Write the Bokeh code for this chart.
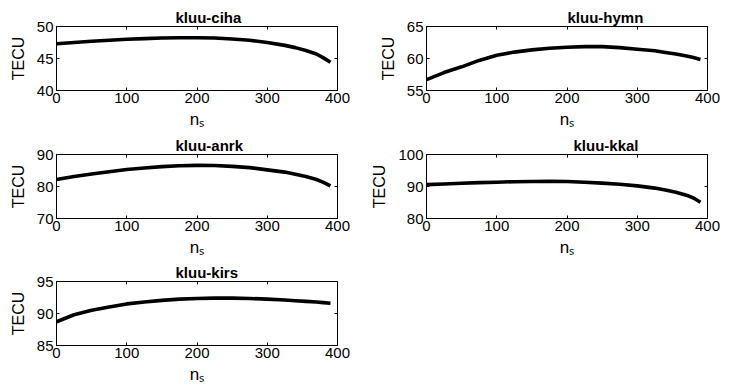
from bokeh.plotting import figure
from bokeh.models import Range1d, LinearAxis, FixedTicker
from bokeh.layouts import column, row
from bokeh.embed import file_html
from bokeh.resources import INLINE

ns = [0, 25, 50, 75, 100, 125, 150, 175, 200, 225, 250, 275, 300, 325, 340, 355, 370, 380, 390]

titles = ["kluu-ciha", "kluu-hymn", "kluu-anrk", "kluu-kkal", "kluu-kirs"]

tec_ciha = [47.3, 47.5, 47.7, 47.85, 48.0, 48.1, 48.2, 48.25, 48.25, 48.2, 48.05, 47.85, 47.5, 47.05, 46.7, 46.25, 45.7, 45.1, 44.4]
tec_hymn = [56.7, 57.8, 58.7, 59.7, 60.5, 61.0, 61.35, 61.6, 61.75, 61.85, 61.85, 61.7, 61.45, 61.2, 60.95, 60.7, 60.4, 60.15, 59.85]
tec_anrk = [82.2, 83.1, 83.9, 84.6, 85.3, 85.8, 86.2, 86.5, 86.6, 86.55, 86.3, 85.9, 85.2, 84.5, 83.8, 83.1, 82.2, 81.3, 80.2]
tec_kkal = [90.6, 90.8, 91.0, 91.2, 91.35, 91.5, 91.55, 91.6, 91.55, 91.35, 91.05, 90.7, 90.2, 89.5, 88.9, 88.2, 87.3, 86.4, 85.1]
tec_kirs = [88.7, 89.8, 90.5, 91.0, 91.5, 91.8, 92.05, 92.25, 92.35, 92.4, 92.4, 92.35, 92.25, 92.1, 92.0, 91.9, 91.8, 91.7, 91.6]

x_ticks = [0, 100, 200, 300, 400]
y_ranges = [(40, 50), (55, 65), (70, 90), (80, 100), (85, 95)]
y_ticks = [[40, 45, 50], [55, 60, 65], [70, 80, 90], [80, 90, 100], [85, 90, 95]]
series = [tec_ciha, tec_hymn, tec_anrk, tec_kkal, tec_kirs]

FONT = "Liberation Sans"


def make(i, W, H, B, L, R, toff, mtop=0):
    p = figure(width=W, height=H, x_range=Range1d(0, 400), y_range=Range1d(*y_ranges[i]),
               output_backend="svg", toolbar_location=None,
               min_border_left=L, min_border_right=R, min_border_top=19, min_border_bottom=B)
    if mtop:
        p.margin = (mtop, 0, 0, 0)
    p.line(ns, series[i], line_width=3.6, color="black")
    p.xgrid.visible = False
    p.ygrid.visible = False
    p.outline_line_color = "black"
    p.background_fill_color = "white"
    p.border_fill_color = "white"

    for ax, tk in ((p.xaxis[0], x_ticks), (p.yaxis[0], y_ticks[i])):
        ax.ticker = FixedTicker(ticks=tk)
        ax.major_tick_in = 3
        ax.major_tick_out = 0
        ax.minor_tick_line_color = None
        ax.axis_line_color = "black"
        ax.major_tick_line_color = "black"
        ax.major_label_text_font = FONT
        ax.major_label_text_font_size = "15px"
        ax.major_label_text_color = "black"
        ax.axis_label_text_font = FONT
        ax.axis_label_text_font_style = "normal"
        ax.axis_label_text_color = "black"
    p.xaxis.major_label_standoff = 2
    p.yaxis.major_label_standoff = 3
    p.xaxis.axis_label = "nₛ"
    p.xaxis.axis_label_text_font_size = "17px"
    p.xaxis.axis_label_standoff = 4
    p.yaxis.axis_label = "TECU"
    p.yaxis.axis_label_text_font_size = "16px"
    p.yaxis.axis_label_standoff = 7

    for side, tk in (("above", x_ticks), ("right", y_ticks[i])):
        ax = LinearAxis(ticker=FixedTicker(ticks=tk), major_label_text_font_size="0px",
                        major_label_text_color=None,
                        major_tick_in=3, major_tick_out=0, major_label_standoff=0,
                        minor_tick_line_color=None, axis_line_color="black",
                        major_tick_line_color="black")
        p.add_layout(ax, side)

    p.title.text = titles[i]
    p.title.text_font = FONT
    p.title.text_font_size = "15px"
    p.title.text_font_style = "bold"
    p.title.text_color = "black"
    p.title.align = "left"
    p.title.offset = toff
    p.title.standoff = 2
    return p


p1 = make(0, 368, 128, 43, 56, 31, 119, mtop=5)
p2 = make(1, 359, 128, 43, 58, 20, 141, mtop=5)
p3 = make(2, 368, 127, 42, 56, 31, 119)
p4 = make(3, 359, 127, 42, 58, 20, 147)
p5 = make(4, 368, 128, 43, 56, 31, 119)

layout = column(row(p1, p2), row(p3, p4), row(p5))

open("out.html", "w").write(file_html(layout, INLINE))
